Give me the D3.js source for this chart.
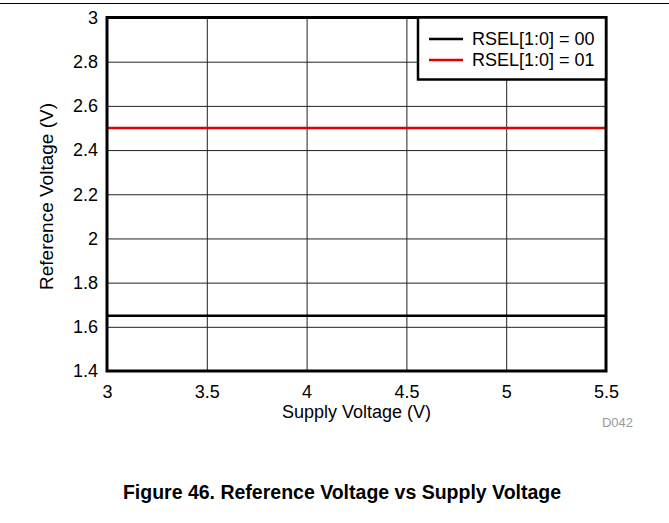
<!DOCTYPE html>
<html>
<head>
<meta charset="utf-8">
<script src="https://cdn.jsdelivr.net/npm/d3@7"></script>
<style>
  body { margin: 0; background: #fff; }
  text { font-family: "Liberation Sans", Arial, sans-serif; }
</style>
</head>
<body>
<script>
// data
var supplyV = [3, 3.5, 4, 4.5, 5, 5.5];
var rsel00 = [1.65, 1.65, 1.65, 1.65, 1.65, 1.65];
var rsel01 = [2.5, 2.5, 2.5, 2.5, 2.5, 2.5];
var seriesNames = ["RSEL[1:0] = 00", "RSEL[1:0] = 01"];
var seriesColors = ["#000000", "#e00000"];
var xTicks = [3, 3.5, 4, 4.5, 5, 5.5];
var yTicks = [1.4, 1.6, 1.8, 2, 2.2, 2.4, 2.6, 2.8, 3];

var W = 669, H = 523;
var margin = {top: 17.5, right: 63, bottom: 152, left: 107},
    width = W - margin.left - margin.right,
    height = H - margin.top - margin.bottom;

var svg = d3.select("body").append("svg")
    .attr("width", W)
    .attr("height", H);

// rule across the top of the page
svg.append("line")
    .attr("x1", 0).attr("x2", W)
    .attr("y1", 3.5).attr("y2", 3.5)
    .attr("stroke", "#000").attr("stroke-width", 1);

var g = svg.append("g")
    .attr("transform", "translate(" + margin.left + "," + margin.top + ")");

var x = d3.scaleLinear().domain([3, 5.5]).range([0, width]);
var y = d3.scaleLinear().domain([1.4, 3]).range([height, 0]);

// grid
g.append("g")
    .attr("transform", "translate(0," + height + ")")
    .call(d3.axisBottom(x).tickValues(xTicks).tickSize(-height).tickFormat(""))
    .call(function(s) { s.select(".domain").remove(); })
    .selectAll("line").attr("stroke", "#222").attr("stroke-width", 1);

g.append("g")
    .call(d3.axisLeft(y).tickValues(yTicks).tickSize(-width).tickFormat(""))
    .call(function(s) { s.select(".domain").remove(); })
    .selectAll("line").attr("stroke", "#222").attr("stroke-width", 1);

// tick labels
var xAxis = g.append("g")
    .attr("transform", "translate(0," + height + ")")
    .call(d3.axisBottom(x).tickValues(xTicks).tickSize(0).tickPadding(14).tickFormat(d3.format("")));
xAxis.select(".domain").remove();
xAxis.selectAll("text").style("font-size", "18px").attr("fill", "#000");

var yAxis = g.append("g")
    .call(d3.axisLeft(y).tickValues(yTicks).tickSize(0).tickPadding(9).tickFormat(d3.format("")));
yAxis.select(".domain").remove();
yAxis.selectAll("text").style("font-size", "18px").attr("fill", "#000");

// series
var line = d3.line()
    .x(function(d) { return x(d[0]); })
    .y(function(d) { return y(d[1]); });

[rsel00, rsel01].forEach(function(vals, i) {
  g.append("path")
      .datum(supplyV.map(function(v, j) { return [v, vals[j]]; }))
      .attr("fill", "none")
      .attr("stroke", seriesColors[i])
      .attr("stroke-width", 2.5)
      .attr("d", line);
});

// plot frame
g.append("rect")
    .attr("width", width).attr("height", height)
    .attr("fill", "none").attr("stroke", "#000").attr("stroke-width", 3);

// legend
var lg = g.append("g").attr("transform", "translate(" + (width - 188) + ",0)");
lg.append("rect")
    .attr("width", 188).attr("height", 62)
    .attr("fill", "#fff").attr("stroke", "#000").attr("stroke-width", 2.5);
seriesNames.forEach(function(name, i) {
  var yy = 21.5 + i * 21;
  lg.append("line")
      .attr("x1", 11).attr("x2", 45)
      .attr("y1", yy).attr("y2", yy)
      .attr("stroke", seriesColors[i]).attr("stroke-width", 2.5);
  lg.append("text")
      .attr("x", 54).attr("y", yy + 6)
      .style("font-size", "18px")
      .text(name);
});

// axis titles
g.append("text")
    .attr("x", width / 2).attr("y", height + 47)
    .attr("text-anchor", "middle")
    .style("font-size", "18px")
    .text("Supply Voltage (V)");

g.append("text")
    .attr("transform", "rotate(-90)")
    .attr("x", -179).attr("y", -54)
    .attr("text-anchor", "middle")
    .style("font-size", "19px")
    .text("Reference Voltage (V)");

g.append("text")
    .attr("x", width + 27).attr("y", height + 56)
    .attr("text-anchor", "end")
    .style("font-size", "13px")
    .attr("fill", "#999")
    .text("D042");

// caption
svg.append("text")
    .attr("x", 342).attr("y", 499)
    .attr("text-anchor", "middle")
    .style("font-size", "19.5px")
    .style("font-weight", "bold")
    .text("Figure 46. Reference Voltage vs Supply Voltage");
</script>
</body>
</html>
